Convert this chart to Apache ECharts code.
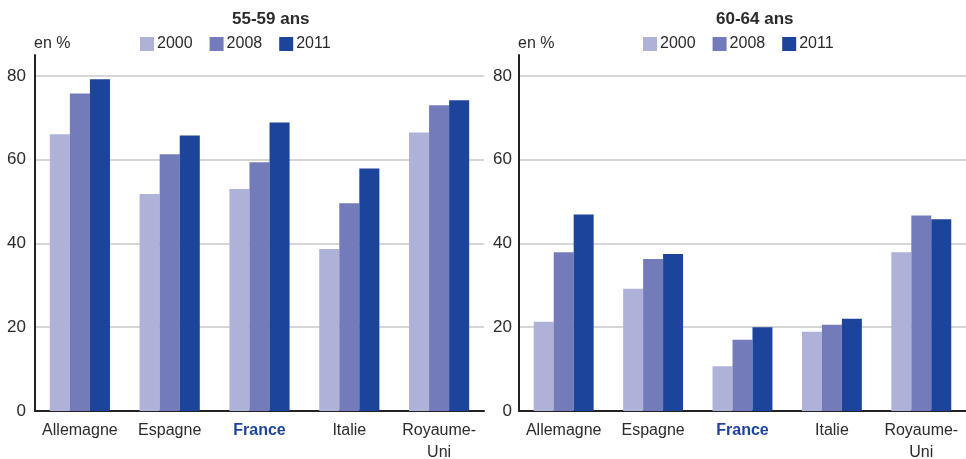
<!DOCTYPE html>
<html>
<head>
<meta charset="utf-8">
<script src="https://cdn.jsdelivr.net/npm/echarts@6/dist/echarts.min.js"></script>
<style>html,body{margin:0;padding:0;background:#fff}#c{width:966px;height:459px}</style>
</head>
<body>
<div id="c"></div>
<script>
const categories = ['Allemagne', 'Espagne', 'France', 'Italie', 'Royaume-\nUni'];
const years = ['2000', '2008', '2011'];
const titles = ['55-59 ans', '60-64 ans'];
const yTicks = [0, 20, 40, 60, 80];
// 55-59 ans
const a5559_2000 = [66.1, 51.8, 53.0, 38.7, 66.5];
const a5559_2008 = [75.8, 61.3, 59.4, 49.6, 73.0];
const a5559_2011 = [79.2, 65.8, 68.9, 57.9, 74.2];
// 60-64 ans
const a6064_2000 = [21.3, 29.2, 10.7, 18.9, 37.9];
const a6064_2008 = [37.9, 36.3, 17.0, 20.6, 46.7];
const a6064_2011 = [46.9, 37.5, 20.0, 22.0, 45.8];

const colors = ['#aeb1d8', '#737bbb', '#1c449a'];
const FONT = '"Liberation Sans Narrow", "Liberation Sans", Arial, sans-serif';
const TXT = '#2a2a2a';

const grids = [
  {left: 35, top: 55, width: 449, height: 356, outerBoundsMode: 'none', containLabel: false},
  {left: 519, top: 55, width: 447, height: 356, outerBoundsMode: 'none', containLabel: false}
];

function xAxis(i) {
  return {
    type: 'category', gridIndex: i, data: categories,
    axisLine: {lineStyle: {color: '#222', width: 2}},
    axisTick: {show: false},
    axisLabel: {
      interval: 0, margin: 9, fontFamily: FONT, fontSize: 16, color: TXT, lineHeight: 22,
      formatter: v => v === 'France' ? '{f|France}' : v,
      rich: {f: {fontFamily: FONT, fontSize: 16, fontWeight: 'bold', color: '#1c449a'}}
    }
  };
}
function yAxis(i) {
  return {
    type: 'value', gridIndex: i, min: 0, max: 85, interval: 20,
    name: 'en %', nameLocation: 'end', nameGap: 3,
    nameTextStyle: {fontFamily: FONT, fontSize: 16, color: TXT, align: 'left', padding: [0, 0, 0, -1]},
    axisLine: {show: true, lineStyle: {color: '#222', width: 2}},
    axisTick: {show: false},
    axisLabel: {
      margin: i === 0 ? 9 : 7, fontFamily: FONT, fontSize: 17, color: TXT,
      showMaxLabel: false,
      formatter: v => yTicks.indexOf(v) >= 0 ? String(v) : ''
    },
    splitLine: {
      show: true, showMaxLine: false,
      lineStyle: {color: ['#c8c8c8', '#c8c8c8', '#c8c8c8', '#c8c8c8', '#c8c8c8', 'rgba(0,0,0,0)'], width: 1.5}
    }
  };
}
const data = [[a5559_2000, a5559_2008, a5559_2011], [a6064_2000, a6064_2008, a6064_2011]];
const series = [];
for (let g = 0; g < 2; g++) {
  for (let k = 0; k < 3; k++) {
    series.push({
      name: years[k], type: 'bar', xAxisIndex: g, yAxisIndex: g,
      data: data[g][k], barGap: '0%', barCategoryGap: '33%',
      itemStyle: {color: colors[k]}, silent: true
    });
  }
}
const legendBase = {
  data: years, itemWidth: 14, itemHeight: 14, itemGap: 17, icon: 'rect',
  textStyle: {fontFamily: FONT, fontSize: 16, color: TXT, padding: [0, 0, 0, -2]},
  top: 31, selectedMode: false
};
const option = {
  animation: false,
  color: colors,
  title: [
    {text: titles[0], left: 227, top: 6, textStyle: {fontFamily: FONT, fontSize: 17, fontWeight: 'bold', color: TXT}},
    {text: titles[1], left: 711, top: 6, textStyle: {fontFamily: FONT, fontSize: 17, fontWeight: 'bold', color: TXT}}
  ],
  legend: [
    Object.assign({}, legendBase, {left: 135}),
    Object.assign({}, legendBase, {left: 638})
  ],
  grid: grids,
  xAxis: [xAxis(0), xAxis(1)],
  yAxis: [yAxis(0), yAxis(1)],
  series: series
};
const chart = echarts.init(document.getElementById('c'));
chart.setOption(option);
</script>
</body>
</html>
